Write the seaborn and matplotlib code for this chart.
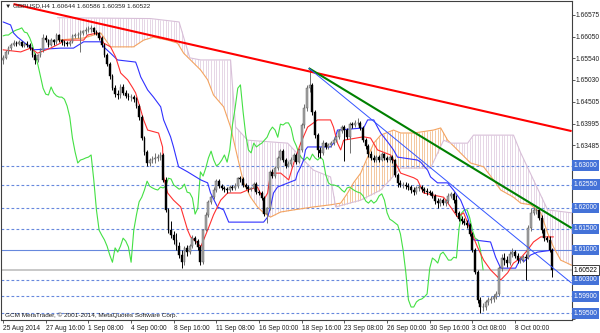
import numpy as np
import pandas as pd
import matplotlib
matplotlib.use("Agg")
import matplotlib.pyplot as plt
import matplotlib.transforms as mtrans
import seaborn as sns

# ---------------- data (prices as pips above BASE) ----------------
BASE = 1.5900
PIP = 0.0001
first_open_pips = 650
close_pips = [655,669,678,685,690,688,692,683,688,685,678,662,650,662,674,702,697,685,697,692,709,697,692,690,688,692,
 707,709,709,714,718,721,723,726,716,714,
 702,685,662,640,612,583,569,567,586,572,
 565,562,562,557,541,515,465,432,406,413,
 415,418,420,425,366,295,247,235,224,209,
 188,171,205,195,209,228,221,207,171,247,
 283,314,325,342,363,351,347,344,342,349,
 347,351,370,368,354,349,344,347,356,337,
 335,323,285,299,385,375,394,418,434,413,
 399,404,413,425,408,437,496,536,583,591,
 527,472,437,430,453,444,449,453,460,467,
 482,491,484,467,498,496,501,501,489,460,
 446,427,418,413,420,413,427,418,413,420,
 413,378,359,354,354,352,349,342,337,347,
 349,344,340,337,335,328,316,311,318,311,
 316,328,333,318,288,273,269,264,259,238,
 200,148,82,65,65,77,82,84,89,96,
 157,181,176,169,190,195,186,176,176,183,
 181,252,288,295,295,276,247,228,224,200,153]
high_pips = [662,673,684,690,697,694,698,695,693,694,
 690,681,666,665,678,712,708,700,702,700,
 714,712,700,697,695,697,712,715,716,720,
 722,727,731,733,729,722,717,706,689,666,
 644,616,590,578,592,592,580,572,570,568,
 562,546,520,470,437,418,422,430,428,432,
 430,372,300,268,245,240,218,200,210,212,
 214,235,232,226,212,250,290,318,330,348,
 367,368,356,352,350,355,354,358,374,375,
 372,358,355,350,360,360,342,340,328,302,
 390,392,398,422,440,438,418,410,420,430,
 430,442,500,545,590,631,596,532,478,445,
 460,456,454,458,466,472,487,496,497,490,
 503,504,508,512,506,494,465,450,435,424,
 426,424,432,430,422,425,424,416,382,366,
 362,360,358,355,348,352,356,354,350,346,
 342,340,332,322,322,324,320,334,338,338,
 330,292,280,276,272,264,242,205,152,88,
 75,82,88,90,96,104,162,190,192,185,
 198,205,200,192,185,188,190,258,300,302,
 300,298,282,252,234,232,205]
low_pips = [640,652,665,674,682,684,685,680,680,681,
 674,658,641,646,658,670,692,680,682,686,
 688,692,686,684,682,684,689,702,703,670,
 708,712,716,717,712,708,698,680,658,636,
 606,578,562,558,560,568,560,555,552,550,
 536,508,460,425,398,400,405,405,410,412,
 360,290,240,228,215,200,180,157,165,186,
 190,205,215,200,165,168,244,278,310,320,
 338,346,342,338,336,338,341,342,347,360,
 350,344,338,340,342,333,330,318,280,264,
 295,370,370,390,412,408,395,396,400,410,
 404,405,432,490,530,575,520,465,420,418,
 426,440,438,444,448,455,462,476,410,462,
 430,490,491,496,485,456,440,420,412,408,
 408,408,410,412,408,408,407,372,350,348,
 346,345,342,336,330,332,340,338,334,330,
 330,322,310,300,305,306,304,310,322,312,
 280,268,262,258,252,232,195,142,75,50,
 55,58,70,74,78,85,92,150,165,160,
 164,184,180,170,170,172,130,178,245,282,
 285,270,240,222,220,195,136]

# Ichimoku traces (bar index, pips)
tenkan_bars = [0,6.6,10.3,12.9,17.8,21.6,22.7,30.2,31.7,35.4,36.6,37.7,40.3,42.2,44.1,46.7,48.6,49.7,51.6,52.7,54.2,58.3,59.8,60.2,61.7,63.9,66.6,68.4,69.2,70.3,72.9,74.1,76.7,78.9,81.6,84.2,89.1,91.7,95.4,97.7,99.2,100.3,104.1,107.1,109,111.6,114.2,116.4,117.9,122.8,123.9,125.4,126.6,127.7,135.2,137.8,140.4,145.3,147.9,149.1,154,155.4,157.7,165.2,167.8,170.4,172.7,175.3,177.9,180.2,182.8,186.6,189.2,191.4,194.1,196.7,198.9,201.6,206.4]
tenkan_pips = [674,669,678,666,678,690,697,697,709,714,704,690,681,657,619,603,584,572,532,508,484,477,444,373,335,318,302,264,247,231,217,207,247,283,318,335,335,342,349,318,335,382,382,366,406,453,491,501,508,508,491,453,437,460,468,465,437,425,397,382,371,366,335,325,302,278,288,247,207,176,153,129,146,169,181,200,219,231,231]
kijun_bars = [0,2.8,3.9,5.4,11.4,21.6,26.4,30.2,36.6,37.7,40.3,42.9,49.7,50.4,51.6,54.2,56.4,59.1,60.2,62.8,63.9,65.8,69.2,74.1,76.7,77.8,80.4,82.7,84.6,97.7,99.2,100.3,101.4,102.9,109.7,110.4,111.6,112.7,113.4,114.2,122.8,123.9,125.4,135.2,136.7,139,140.4,141.6,144.2,146.4,147.9,155.4,156.6,159.2,160.3,162.9,166.7,168.9,171.6,174.2,176.4,182.8,184.7,186.6,192.2,194.1,195.2,197.8,200.4,206.4]
kijun_pips = [740,733,714,704,674,678,678,693,693,681,666,650,645,633,610,579,562,539,508,468,444,397,385,366,359,335,302,295,266,266,278,302,335,349,366,382,397,413,437,444,444,453,484,489,508,508,491,477,456,437,420,413,408,389,373,359,359,342,318,278,224,219,183,157,157,181,172,188,195,200]
span_a_bars = [20.4,30.2,36.6,40.3,48.9,52.7,56.4,61.7,65.4,67.7,71.4,74.1,76.7,78.9,82.7,85.3,87.9,90.2,92.8,95.4,97.7,100.3,104.1,109,116.4,122.8,126.6,129.2,131.4,134.1,136.7,139,141.6,146.4,149.1,154,161.4,164.1,166.7,170.4,175.3,180.2,183.9,186.6,191.4,194.1,197.8,201.6,204.2,206.4,209.1,213.2]
span_a_pips = [697,702,714,681,681,697,704,697,690,666,643,626,603,567,539,491,420,359,325,302,288,278,290,295,302,307,311,335,359,382,420,453,472,484,477,477,484,489,460,437,406,397,366,342,325,311,307,288,240,207,176,164]
span_b_bars = [20.4,55.3,66.0,70.0,74.1,85.3,87.2,91.7,106.7,111.6,116.4,122.8,124.7,134.1,141.6,149.1,160.3,165.2,167.8,174.2,176.4,191.4,194.1,198.9,204.2,213.2]
span_b_pips = [750,748,740,655,650,650,491,460,453,420,389,373,302,318,342,394,394,460,453,453,472,472,430,366,295,288]

# drawn trend lines: (bar, price) anchors
red_trend = [(3.9, 1.66823), (213.2, 1.63815)]
green_trend = [(114.6, 1.65307), (213.2, 1.61518)]
blue_trend = [(114.6, 1.65307), (213.2, 1.60215)]

dotted_levels = [1.6300, 1.6255, 1.6200, 1.6150, 1.6030, 1.5990, 1.5950]
solid_level = 1.6100
bid_price = 1.60522
axis_ticks = [1.66575, 1.66050, 1.65540, 1.65030, 1.64505, 1.63995, 1.63485,
              1.62960, 1.62450, 1.61940, 1.61415, 1.60905, 1.60395, 1.59870, 1.59360]
date_bars = [0, 16, 32, 48, 64, 80, 96, 112, 128, 144, 160, 176, 192]
date_labels = ["25 Aug 2014", "27 Aug 16:00", "1 Sep 08:00", "4 Sep 00:00", "8 Sep 16:00",
               "11 Sep 08:00", "16 Sep 00:00", "18 Sep 16:00", "23 Sep 08:00", "26 Sep 00:00",
               "30 Sep 16:00", "3 Oct 08:00", "8 Oct 00:00"]
title_text = "\u25bc GBPUSD,H4 1.60644 1.60586 1.60359 1.60522"
copyright_text = "GCM MetaTrader, \u00a9 2001-2014, MetaQuotes Software Corp."

# ---------------- build frame ----------------
def px(a):
    return BASE + np.asarray(a, dtype=float) * PIP

close = px(close_pips)
openp = px([first_open_pips] + close_pips[:-1])
high = px(high_pips)
low = px(low_pips)
n = len(close)
bars = np.arange(n)
df = pd.DataFrame({"bar": bars, "open": openp, "high": high, "low": low, "close": close})

sns.set_theme(style="white")
plt.rcParams["font.family"] = ["Liberation Sans", "DejaVu Sans"]

fig = plt.figure(figsize=(6.0, 3.33), dpi=100)
ax = fig.add_axes([0.001, 0.039, 0.9517, 0.958])
ax.set_facecolor("white")

# cloud hatch (vertical lines per bar between span A and span B)
grid = np.arange(int(np.ceil(min(span_a_bars[0], span_b_bars[0]))), 214)
A = np.interp(grid, span_a_bars, px(span_a_pips))
B = np.interp(grid, span_b_bars, px(span_b_pips))
up = A >= B
ax.vlines(grid[up], B[up], A[up], colors="#F4C8A0", lw=0.7, zorder=1)
ax.vlines(grid[~up], A[~up], B[~up], colors="#E6D6E6", lw=0.7, zorder=1)
sns.lineplot(x=span_a_bars, y=px(span_a_pips), ax=ax, color="#F4A460", lw=0.8, zorder=2)
sns.lineplot(x=span_b_bars, y=px(span_b_pips), ax=ax, color="#D8BFD8", lw=0.8, zorder=2)

# horizontal levels
for lv in dotted_levels:
    ax.axhline(lv, color="#6688DD", lw=0.8, ls=(0, (2.5, 2)), zorder=1.5)
ax.axhline(solid_level, color="#6688DD", lw=0.8, zorder=1.5)
ax.axhline(bid_price, color="#C8C8C8", lw=1.4, zorder=1.4)

# chikou (close shifted back 26 bars)
sns.lineplot(x=df["bar"].values[26:] - 26, y=df["close"].values[26:], ax=ax, color="#44E044", lw=0.8, zorder=3)
# tenkan / kijun
sns.lineplot(x=tenkan_bars, y=px(tenkan_pips), ax=ax, color="#FF3030", lw=0.8, zorder=3.2)
sns.lineplot(x=kijun_bars, y=px(kijun_pips), ax=ax, color="#3030FF", lw=0.8, zorder=3.1)

# candles
bull = df["close"] >= df["open"]
ax.vlines(df["bar"][bull], df["low"][bull], df["high"][bull], colors="#707070", lw=0.7, zorder=4)
ax.vlines(df["bar"][~bull], df["low"][~bull], df["high"][~bull], colors="#000000", lw=0.7, zorder=4)
body_lo = np.minimum(df["open"], df["close"])
body_h = np.maximum(np.abs(df["close"] - df["open"]), 0.00004)
ax.bar(df["bar"][bull], body_h[bull], bottom=body_lo[bull], width=0.7,
       color="#A8A8A8", edgecolor="#505050", lw=0.3, zorder=4.5)
ax.bar(df["bar"][~bull], body_h[~bull], bottom=body_lo[~bull], width=0.7,
       color="#000000", edgecolor="#000000", lw=0.3, zorder=4.5)

# trend lines
for (p0, p1), col, lw in [(red_trend, "#FF0000", 1.5), (green_trend, "#008000", 1.5), (blue_trend, "#3355FF", 0.7)]:
    ax.plot([p0[0], p1[0]], [p0[1], p1[1]], color=col, lw=lw, zorder=6, solid_capstyle="butt")

ax.set_xlim(-0.94, 213.2)
ax.set_ylim(1.59342, 1.66896)

# axes styling
for s in ax.spines.values():
    s.set_color("#404040")
    s.set_linewidth(0.8)
ax.yaxis.tick_right()
ax.set_yticks(axis_ticks)
boxed = dotted_levels + [solid_level, bid_price]
ax.set_yticklabels(["" if min(abs(v - b) for b in boxed) < 0.0015 else f"{v:.5f}" for v in axis_ticks])
ax.tick_params(axis="y", which="both", right=True, left=False, length=2, width=0.6,
               color="#404040", pad=1, labelsize=4.8, labelcolor="#202020")
ax.set_xticks(date_bars)
ax.set_xticklabels(date_labels)
ax.tick_params(axis="x", bottom=True, length=2, width=0.6, color="#404040", pad=1.5,
               labelsize=4.8, labelcolor="#202020")
for lab in ax.get_xticklabels():
    lab.set_horizontalalignment("left")
ax.grid(False)

# price label boxes
tr = mtrans.blended_transform_factory(ax.transAxes, ax.transData)
for lv in dotted_levels + [solid_level]:
    ax.text(1.004, lv, f"{lv:.5f}", transform=tr, fontsize=4.8, color="white", va="center", ha="left",
            clip_on=False, zorder=10,
            bbox=dict(boxstyle="square,pad=0.25", fc="#4472D8", ec="none"))
ax.text(1.004, bid_price, f"{bid_price:.5f}", transform=tr, fontsize=4.8, color="black", va="center", ha="left",
        clip_on=False, zorder=11,
        bbox=dict(boxstyle="square,pad=0.25", fc="white", ec="#202020", lw=0.6))

ax.text(0.007, 0.992, title_text, transform=ax.transAxes, fontsize=4.6, color="#202020",
        va="top", ha="left", zorder=7)
ax.text(0.007, 0.006, copyright_text, transform=ax.transAxes, fontsize=4.6, color="#202020",
        va="bottom", ha="left", zorder=7)

fig.savefig("out.png", dpi=100)
